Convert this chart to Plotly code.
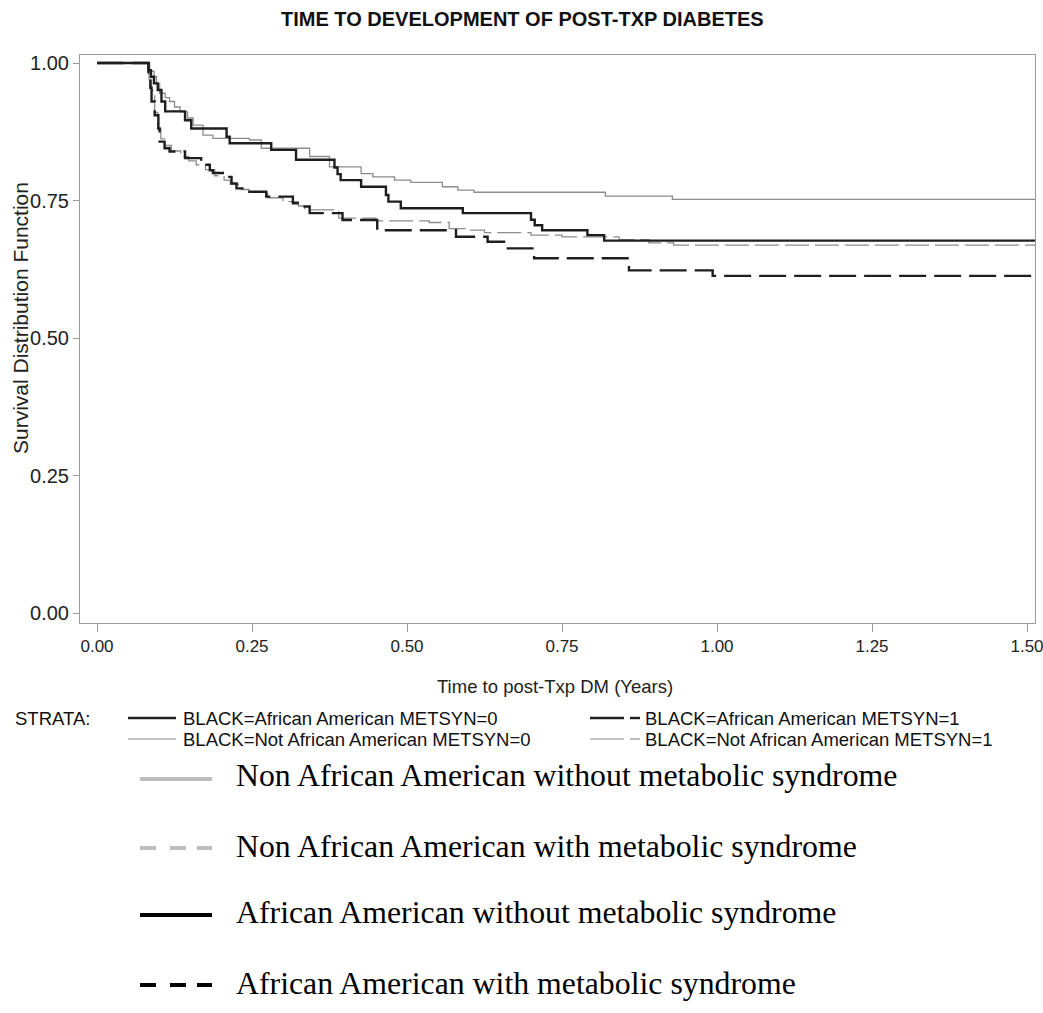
import plotly.graph_objects as go

# ---------------- data ----------------
title_text = "TIME TO DEVELOPMENT OF POST-TXP DIABETES"
x_title = "Time to post-Txp DM (Years)"
y_title = "Survival Distribution Function"
x_tick_vals = [0.0, 0.25, 0.5, 0.75, 1.0, 1.25, 1.5]
x_tick_text = ["0.00", "0.25", "0.50", "0.75", "1.00", "1.25", "1.50"]
y_tick_vals = [0.0, 0.25, 0.5, 0.75, 1.0]
y_tick_text = ["0.00", "0.25", "0.50", "0.75", "1.00"]

# BLACK=African American METSYN=0
aa0_t = [0.0, 0.083, 0.087, 0.092, 0.098, 0.104, 0.110, 0.142, 0.152, 0.209, 0.214,
         0.281, 0.321, 0.383, 0.388, 0.393, 0.426, 0.466, 0.470, 0.490, 0.590, 0.700,
         0.706, 0.718, 0.791, 0.818, 1.52]
aa0_s = [1.0, 0.987, 0.975, 0.963, 0.951, 0.930, 0.912, 0.896, 0.881, 0.866, 0.854,
         0.842, 0.824, 0.810, 0.798, 0.787, 0.775, 0.760, 0.748, 0.736, 0.727, 0.715,
         0.705, 0.696, 0.687, 0.677, 0.677]

# BLACK=African American METSYN=1
aa1_t = [0.0, 0.083, 0.086, 0.088, 0.093, 0.099, 0.101, 0.109, 0.117, 0.142, 0.168,
         0.182, 0.187, 0.209, 0.217, 0.225, 0.241, 0.273, 0.316, 0.327, 0.343, 0.396,
         0.452, 0.579, 0.630, 0.659, 0.705, 0.858, 0.993, 1.52]
aa1_s = [1.0, 0.975, 0.955, 0.930, 0.905, 0.881, 0.857, 0.845, 0.839, 0.827, 0.815,
         0.805, 0.800, 0.793, 0.781, 0.772, 0.766, 0.757, 0.745, 0.739, 0.727, 0.7145,
         0.696, 0.684, 0.675, 0.663, 0.645, 0.623, 0.613, 0.613]

# BLACK=Not African American METSYN=0
naa0_t = [0.0, 0.085, 0.092, 0.096, 0.101, 0.110, 0.117, 0.125, 0.134, 0.146, 0.155,
          0.171, 0.187, 0.246, 0.265, 0.343, 0.375, 0.426, 0.445, 0.480, 0.506, 0.557,
          0.582, 0.608, 0.820, 0.928, 1.52]
naa0_s = [1.0, 0.985, 0.975, 0.963, 0.945, 0.937, 0.930, 0.920, 0.911, 0.900, 0.887,
          0.869, 0.863, 0.860, 0.845, 0.830, 0.811, 0.799, 0.793, 0.787, 0.783, 0.775,
          0.769, 0.765, 0.758, 0.752, 0.752]

# BLACK=Not African American METSYN=1
naa1_t = [0.0, 0.084, 0.088, 0.093, 0.098, 0.103, 0.110, 0.120, 0.135, 0.148, 0.160,
          0.175, 0.190, 0.205, 0.215, 0.228, 0.245, 0.275, 0.300, 0.325, 0.335, 0.390,
          0.450, 0.536, 0.568, 0.598, 0.625, 0.700, 0.750, 0.842, 0.890, 0.930, 1.52]
naa1_s = [1.0, 0.970, 0.950, 0.910, 0.880, 0.862, 0.850, 0.840, 0.830, 0.822, 0.815,
          0.806, 0.795, 0.787, 0.780, 0.770, 0.765, 0.755, 0.748, 0.740, 0.733, 0.718,
          0.713, 0.710, 0.699, 0.696, 0.6915, 0.687, 0.684, 0.679, 0.673, 0.669, 0.669]

strata_labels = ["BLACK=African American METSYN=0", "BLACK=African American METSYN=1",
                 "BLACK=Not African American METSYN=0", "BLACK=Not African American METSYN=1"]
big_legend_labels = ["Non African American without metabolic syndrome",
                     "Non African American with metabolic syndrome",
                     "African American without metabolic syndrome",
                     "African American with metabolic syndrome"]

# ---------------- layout geometry ----------------
W, H = 1043, 1013
# plot area in screen pixels (page body margin removed below)
SL, SR, ST, SB = 80, 1035, 55, 623
L, R, T, B = SL, SR, ST, SB

def px(x):  # screen x -> paper
    return (x - SL) / (SR - SL)

def py(y):  # screen y -> paper
    return (SB - y) / (SB - ST)

BLK = "#1e1e1e"
GRY = "#8c8c8c"
LGRY = "#bdbdbd"

fig = go.Figure()
fig.add_trace(go.Scatter(x=naa0_t, y=naa0_s, mode="lines", line_shape="hv",
                         line=dict(color=GRY, width=1.3), showlegend=False))
fig.add_trace(go.Scatter(x=naa1_t, y=naa1_s, mode="lines", line_shape="hv",
                         line=dict(color=GRY, width=1.3, dash="24px,6px"), showlegend=False))
fig.add_trace(go.Scatter(x=aa0_t, y=aa0_s, mode="lines", line_shape="hv",
                         line=dict(color=BLK, width=2.4), showlegend=False))
fig.add_trace(go.Scatter(x=aa1_t, y=aa1_s, mode="lines", line_shape="hv",
                         line=dict(color=BLK, width=2.4, dash="27px,8px"), showlegend=False))

shapes = []
annotations = []

sans = "Liberation Sans, Arial, sans-serif"
serif = "Liberation Serif, Times New Roman, serif"

# title and axis titles as positioned text
annotations.append(dict(x=px(522), y=py(19), xref="paper", yref="paper",
                        text="<b>" + title_text + "</b>", showarrow=False,
                        xanchor="center", yanchor="middle",
                        font=dict(family=sans, size=20, color="#111")))
annotations.append(dict(x=px(555), y=py(686), xref="paper", yref="paper", text=x_title,
                        showarrow=False, xanchor="center", yanchor="middle",
                        font=dict(family=sans, size=18.5, color="#222")))
annotations.append(dict(x=px(20), y=py(318), xref="paper", yref="paper", text=y_title,
                        showarrow=False, xanchor="center", yanchor="middle", textangle=-90,
                        font=dict(family=sans, size=21, color="#222")))

# STRATA legend
annotations.append(dict(x=px(13), y=py(718), xref="paper", yref="paper", text="STRATA:",
                        showarrow=False, xanchor="left", yanchor="middle",
                        font=dict(family=sans, size=18.5, color="#111")))
rows = [718, 739]
cols = [(128, 176, 181), (590, 640, 643)]
styles = [(BLK, 2.4, False), (BLK, 2.4, True), (GRY, 1.2, False), (GRY, 1.2, True)]
for i, lab in enumerate(strata_labels):
    r, c = divmod(i, 2)
    x0, x1, xt = cols[c]
    yy = rows[r]
    col, w, dashed = styles[i]
    if dashed:
        shapes.append(dict(type="line", xref="paper", yref="paper", x0=px(x0), x1=px(x0 + 34),
                           y0=py(yy), y1=py(yy), line=dict(color=col, width=w)))
        shapes.append(dict(type="line", xref="paper", yref="paper", x0=px(x0 + 40), x1=px(x1),
                           y0=py(yy), y1=py(yy), line=dict(color=col, width=w)))
    else:
        shapes.append(dict(type="line", xref="paper", yref="paper", x0=px(x0), x1=px(x1),
                           y0=py(yy), y1=py(yy), line=dict(color=col, width=w)))
    annotations.append(dict(x=px(xt), y=py(yy), xref="paper", yref="paper", text=lab,
                            showarrow=False, xanchor="left", yanchor="middle",
                            font=dict(family=sans, size=18.5, color="#111")))

# big legend
big_rows = [(775, 779), (846, 848), (913, 915), (983, 985)]
big_styles = [(LGRY, False), (LGRY, True), ("#000", False), ("#000", True)]
for i, lab in enumerate(big_legend_labels):
    ty, ly = big_rows[i]
    col, dashed = big_styles[i]
    if dashed:
        for a, b in [(140, 156), (170, 186), (197, 212)]:
            shapes.append(dict(type="line", xref="paper", yref="paper", x0=px(a), x1=px(b),
                               y0=py(ly), y1=py(ly), line=dict(color=col, width=4)))
    else:
        shapes.append(dict(type="line", xref="paper", yref="paper", x0=px(140), x1=px(212),
                           y0=py(ly), y1=py(ly), line=dict(color=col, width=4)))
    annotations.append(dict(x=px(234), y=py(ty), xref="paper", yref="paper", text=lab,
                            showarrow=False, xanchor="left", yanchor="middle",
                            font=dict(family=serif, size=31.8, color="#000")))

fig.update_layout(
    width=W, height=H,
    margin=dict(l=L, r=W - R, t=T, b=H - B, autoexpand=False),
    paper_bgcolor="white", plot_bgcolor="white",
    xaxis=dict(range=[(SL - 97) / 620, (SR - 97) / 620], tickvals=x_tick_vals, ticktext=x_tick_text,
               showgrid=False, zeroline=False, showline=True, mirror=True, linecolor="#9a9a9a",
               linewidth=1, ticks="outside", ticklen=8, tickcolor="#9a9a9a", automargin=False,
               ticklabeloverflow="allow",
               tickfont=dict(family=sans, size=17, color="#222")),
    yaxis=dict(range=[-(SB - 613) / 550, 1 + (63 - ST) / 550], tickvals=y_tick_vals, ticktext=y_tick_text,
               showgrid=False, zeroline=False, showline=True, mirror=True, linecolor="#9a9a9a",
               linewidth=1, ticks="outside", ticklen=6, tickcolor="#9a9a9a", automargin=False,
               ticklabeloverflow="allow",
               tickfont=dict(family=sans, size=20, color="#222")),
    shapes=shapes, annotations=annotations,
)

fig.write_html("out.html", config={"displayModeBar": False},
               post_script="document.body.style.margin='0';")
